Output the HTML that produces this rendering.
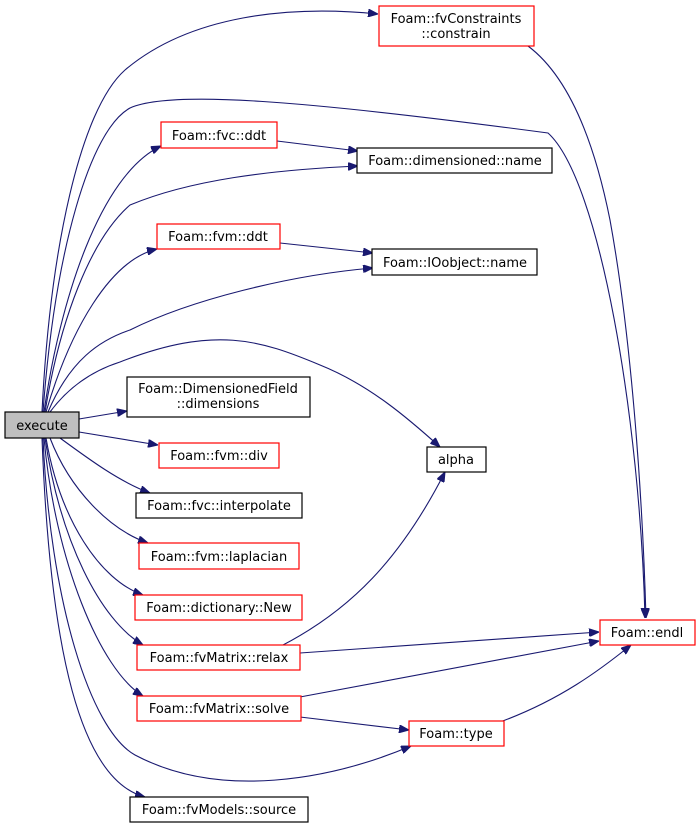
<!DOCTYPE html>
<html><head><meta charset="utf-8"><style>
html,body{margin:0;padding:0;background:#fff;}
svg{display:block;}
text{font-family:"DejaVu Sans","Liberation Sans",sans-serif;font-size:13px;fill:#000;text-anchor:middle;}
.e{fill:none;stroke:#191970;stroke-width:1.1;}
.r{fill:#fff;stroke:#ff0000;stroke-width:1.2;}
.b{fill:#fff;stroke:#000;stroke-width:1.2;}
</style></head><body>
<svg width="700" height="829" viewBox="0 0 700 829" xmlns="http://www.w3.org/2000/svg">
<defs><marker id="a" markerWidth="10" markerHeight="8" refX="10" refY="4" orient="auto" markerUnits="userSpaceOnUse"><path d="M0,0 L10,4 L0,8 Z" fill="#191970" stroke="#191970"/></marker></defs>
<g marker-end="url(#a)">
<path class="e" d="M42,412 C50,250 80,110 125,70 C190,15 290,5 378,14"/>
<path class="e" d="M43,412 C55,250 90,130 130,108 C170,90 300,100 548,133 C600,180 640,420 645,618"/>
<path class="e" d="M528,46 C560,70 590,120 610,220 C630,330 642,480 646,618"/>
<path class="e" d="M44,412 C60,300 100,175 161,146"/>
<path class="e" d="M277,141 L358,151"/>
<path class="e" d="M45,412 C60,320 90,240 130,205 C190,180 270,170 358,166"/>
<path class="e" d="M46,412 C70,330 110,260 157,249"/>
<path class="e" d="M280,243 L373,253"/>
<path class="e" d="M48,412 C70,360 100,340 130,330 C190,300 290,275 373,268"/>
<path class="e" d="M50,412 C70,385 95,370 120,362 C215,325 260,340 320,365 C370,385 410,420 440,447"/>
<path class="e" d="M79,419 L127,411"/>
<path class="e" d="M79,432 L158,445"/>
<path class="e" d="M60,438 C90,460 120,482 150,493"/>
<path class="e" d="M50,438 C70,490 110,530 148,543"/>
<path class="e" d="M46,438 C60,520 100,580 143,595"/>
<path class="e" d="M45,438 C60,540 100,620 143,645"/>
<path class="e" d="M44,438 C55,560 100,670 143,696"/>
<path class="e" d="M43,438 C50,600 90,730 135,755 C220,800 330,780 411,746"/>
<path class="e" d="M42,438 C50,650 80,780 145,797"/>
<path class="e" d="M283,645 C350,610 400,560 445,472"/>
<path class="e" d="M300,653 L599,632"/>
<path class="e" d="M300,697 L599,641"/>
<path class="e" d="M300,717 L409,730"/>
<path class="e" d="M500,722 C560,700 600,670 631,645"/>
</g>
<rect x="5" y="412" width="74" height="26" fill="#bfbfbf" stroke="#000" stroke-width="1.2"/><text x="42" y="430">execute</text>
<rect class="r" x="379" y="6" width="155" height="40"/><text x="456" y="23">Foam::fvConstraints</text><text x="456" y="38">::constrain</text>
<rect class="r" x="161" y="122" width="116" height="26"/><text x="219" y="140">Foam::fvc::ddt</text>
<rect class="b" x="357" y="148" width="195" height="25"/><text x="455" y="165">Foam::dimensioned::name</text>
<rect class="r" x="157" y="224" width="123" height="25"/><text x="218" y="241">Foam::fvm::ddt</text>
<rect class="b" x="372" y="249" width="165" height="26"/><text x="455" y="267">Foam::IOobject::name</text>
<rect class="b" x="127" y="377" width="183" height="40"/><text x="218" y="393">Foam::DimensionedField</text><text x="218" y="408">::dimensions</text>
<rect class="r" x="159" y="443" width="120" height="25"/><text x="219" y="460">Foam::fvm::div</text>
<rect class="b" x="427" y="447" width="59" height="25"/><text x="456" y="464">alpha</text>
<rect class="b" x="136" y="493" width="166" height="25"/><text x="219" y="510">Foam::fvc::interpolate</text>
<rect class="r" x="139" y="543" width="160" height="26"/><text x="219" y="561">Foam::fvm::laplacian</text>
<rect class="r" x="135" y="595" width="167" height="25"/><text x="219" y="612">Foam::dictionary::New</text>
<rect class="r" x="600" y="620" width="95" height="25"/><text x="647" y="637">Foam::endl</text>
<rect class="r" x="137" y="645" width="163" height="25"/><text x="219" y="662">Foam::fvMatrix::relax</text>
<rect class="r" x="137" y="696" width="164" height="25"/><text x="219" y="713">Foam::fvMatrix::solve</text>
<rect class="r" x="409" y="721" width="95" height="25"/><text x="456" y="738">Foam::type</text>
<rect class="b" x="130" y="797" width="178" height="25"/><text x="219" y="814">Foam::fvModels::source</text>
</svg>
</body></html>
